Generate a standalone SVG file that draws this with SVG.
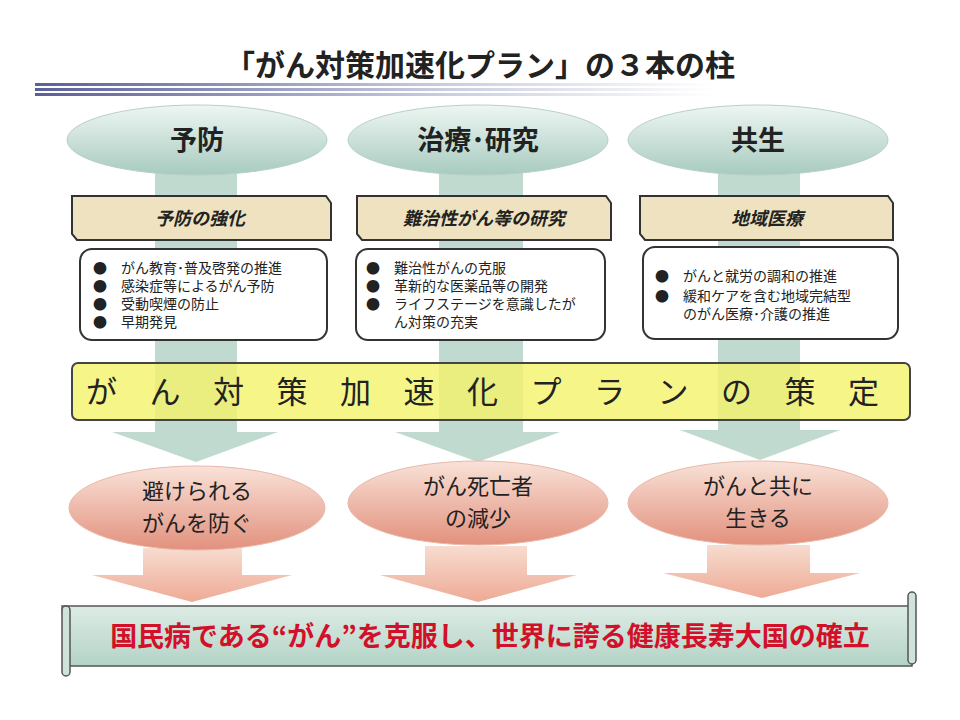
<svg xmlns="http://www.w3.org/2000/svg" width="960" height="720" viewBox="0 0 960 720">
<defs>
<linearGradient id="gT" x1="0" y1="0" x2="0" y2="1"><stop offset="0" stop-color="#eef6f2"/><stop offset="1" stop-color="#a8cbbf"/></linearGradient>
<linearGradient id="gR" x1="0" y1="0" x2="0" y2="1"><stop offset="0" stop-color="#f9e2d8"/><stop offset="1" stop-color="#e2917d"/></linearGradient>
<linearGradient id="gO" x1="0" y1="0" x2="0" y2="1"><stop offset="0" stop-color="#f7dccf"/><stop offset="1" stop-color="#eeaa95"/></linearGradient>
<linearGradient id="gL" x1="0" y1="0" x2="1" y2="0"><stop offset="0" stop-color="#5a5f9a"/><stop offset="0.6" stop-color="#c9cde0"/><stop offset="1" stop-color="#ffffff"/></linearGradient>
<linearGradient id="gS" x1="0" y1="0" x2="0" y2="1"><stop offset="0" stop-color="#dcece5"/><stop offset="1" stop-color="#b4d3c7"/></linearGradient>
<style>
text{font-family:"Noto Sans CJK JP","Noto Sans",sans-serif;fill:#222}
.top{fill:url(#gT);stroke:#b7d0c7;stroke-width:1}
.shaft{fill:#b5d4c8;opacity:0.85}
.tan{fill:#eee2c0;stroke:#333;stroke-width:2}
.wb{fill:#fff;stroke:#333;stroke-width:2}
.red{fill:url(#gR);stroke:#e9b8a8;stroke-width:1}
.oa{fill:url(#gO)}
.h{font-size:27px;text-anchor:middle;font-weight:bold}
.s{font-size:18px;text-anchor:middle;font-style:italic;font-weight:bold}
.b{font-size:14px}
.r{font-size:22px;text-anchor:middle}
</style>
</defs>
<rect width="960" height="720" fill="#fff"/>
<text x="480" y="76" font-size="30" font-weight="bold" text-anchor="middle">「がん対策加速化プラン」の３本の柱</text>
<g fill="url(#gL)"><rect x="35" y="83" width="680" height="3"/><rect x="35" y="88" width="680" height="3"/><rect x="35" y="93" width="680" height="3"/></g>

<g id="connectors">
<path class="shaft" d="M155,172H237V432H278L196,462L112,432H155Z"/>
<path class="shaft" d="M439,172H523V432H560L478,462L395,432H439Z"/>
<path class="shaft" d="M718,172H800V430H840L760,460L680,430H718Z"/>
<path class="oa" d="M143,548H242V575H292L192,602L92,575H143Z"/>
<path class="oa" d="M425,546H527V575H577L478,602L380,575H425Z"/>
<path class="oa" d="M707,545H810V573H860L762,598L663,573H707Z"/>
</g>

<g id="pillar1"><ellipse class="top" cx="197" cy="140" rx="130" ry="35"/><text class="h" x="197" y="150">予防</text></g>
<g id="pillar2"><ellipse class="top" cx="478" cy="140" rx="130" ry="35"/><text class="h" x="478" y="150">治療･研究</text></g>
<g id="pillar3"><ellipse class="top" cx="758" cy="140" rx="130" ry="35"/><text class="h" x="758" y="150">共生</text></g>

<g id="sub1"><path class="tan" d="M72,196H326L331,203V240H77L72,234Z"/><text class="s" x="200" y="225">予防の強化</text></g>
<g id="sub2"><path class="tan" d="M357,196H606L611,203V240H362L357,234Z"/><text class="s" x="484" y="225">難治性がん等の研究</text></g>
<g id="sub3"><path class="tan" d="M640,196H888L893,203V240H645L640,234Z"/><text class="s" x="767" y="225">地域医療</text></g>

<g id="list1"><rect class="wb" x="80" y="249" width="247" height="91" rx="12"/>
<g class="b"><text x="93" y="273">●　がん教育･普及啓発の推進</text><text x="93" y="291">●　感染症等によるがん予防</text><text x="93" y="309">●　受動喫煙の防止</text><text x="93" y="327">●　早期発見</text></g></g>
<g id="list2"><rect class="wb" x="356" y="249" width="249" height="91" rx="12"/>
<g class="b"><text x="366" y="273">●　難治性がんの克服</text><text x="366" y="291">●　革新的な医薬品等の開発</text><text x="366" y="309">●　ライフステージを意識したが</text><text x="394" y="327">ん対策の充実</text></g></g>
<g id="list3"><rect class="wb" x="643" y="247" width="255" height="92" rx="12"/>
<g class="b"><text x="655" y="281">●　がんと就労の調和の推進</text><text x="655" y="301">●　緩和ケアを含む地域完結型</text><text x="683" y="319">のがん医療･介護の推進</text></g></g>

<g id="band"><rect x="72" y="363" width="838" height="57" rx="6" fill="#f4f36a" fill-opacity="0.8" stroke="#444" stroke-width="2"/>
<text x="86" y="403" font-size="31" letter-spacing="32.5">がん対策加速化プランの策定</text></g>

<g id="goal1"><ellipse class="red" cx="197" cy="508" rx="128" ry="42"/><text class="r" x="197" y="499">避けられる</text><text class="r" x="197" y="531">がんを防ぐ</text></g>
<g id="goal2"><ellipse class="red" cx="478" cy="503" rx="130" ry="42"/><text class="r" x="478" y="494">がん死亡者</text><text class="r" x="478" y="526">の減少</text></g>
<g id="goal3"><ellipse class="red" cx="758" cy="503" rx="130" ry="42"/><text class="r" x="758" y="494">がんと共に</text><text class="r" x="758" y="526">生きる</text></g>

<g id="banner">
<path d="M62,606H912V666H66Z" fill="url(#gS)" stroke="#555" stroke-width="1.5"/>
<rect x="62" y="606" width="8" height="70" rx="4" fill="#cfe3da" stroke="#555" stroke-width="1.5"/>
<rect x="908" y="592" width="8" height="72" rx="4" fill="#cfe3da" stroke="#555" stroke-width="1.5"/>
<text x="490" y="646" font-size="27" font-weight="bold" text-anchor="middle" style="fill:#d2102a">国民病である“がん”を克服し、世界に誇る健康長寿大国の確立</text>
</g>
</svg>
